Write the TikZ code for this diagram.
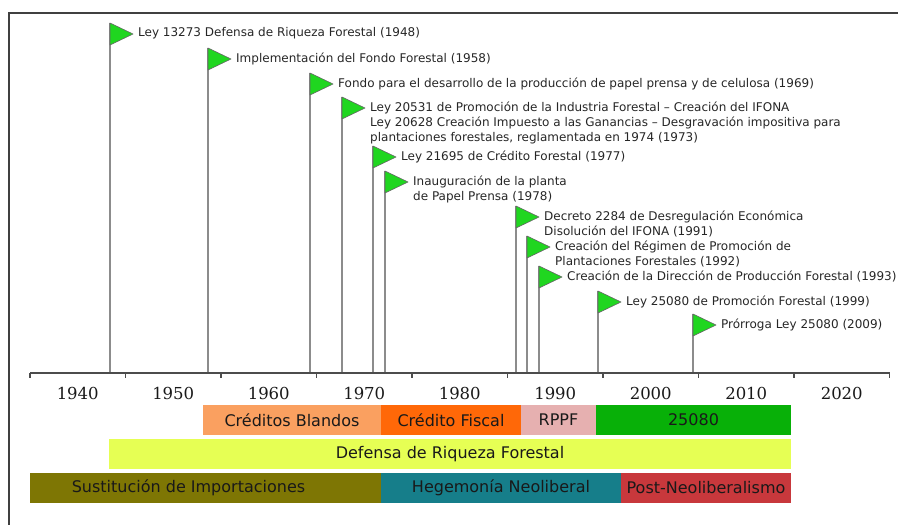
\documentclass[tikz,border=0pt]{standalone}
\usepackage{fontspec}
\setmainfont{DejaVu Sans}
\newfontfamily\yearfont{DejaVu Serif}
\usetikzlibrary{positioning}
\definecolor{flaggreen}{RGB}{32,214,32}
\definecolor{polegray}{RGB}{140,140,140}
\definecolor{blandos}{RGB}{250,160,96}
\definecolor{fiscal}{RGB}{255,104,8}
\definecolor{rppf}{RGB}{230,176,176}
\definecolor{ley25080}{RGB}{8,176,8}
\definecolor{defensa}{RGB}{230,255,84}
\definecolor{sustolive}{RGB}{126,118,4}
\definecolor{hegemonia}{RGB}{22,126,138}
\definecolor{postneo}{RGB}{200,56,60}
\tikzset{
  pole/.style={line width=1.4pt, color=polegray},
  flag/.style={fill=flaggreen, draw=black!60, line width=0.6pt, line join=round},
  eventlabel/.style={anchor=north west, inner sep=0pt, align=left, text=black!85,
    font=\fontsize{12}{15}\selectfont},
  axisline/.style={line width=1.8pt, color=black!70},
  yearlabel/.style={font=\yearfont\fontsize{16.5}{18}\selectfont, text=black!90},
  bar/.style={minimum height=30pt, inner sep=0pt, text=black!90,
    font=\fontsize{16}{18}\selectfont},
}
% one flag on its pole, label to the right
\newcommand{\eventflag}[4]{
\coordinate (#1-top) at (#2, #3);
\coordinate (#1-foot) at (#2, 373);
\draw[pole] (#1-top) -- (#1-foot);
\draw[flag] (#1-top) -- ++(23, 11) -- ++(-23, 11) -- cycle;
\node[eventlabel] (#1) at (#2 + 28, #3 + 4.5) {#4};
}

\begin{document}
\begin{tikzpicture}[x=1pt, y=-1pt]
\useasboundingbox (0, 0) rectangle (898, 525);
\draw[line width=2pt, black!75] (898, 13) -- (9, 13) -- (9, 525);

\eventflag{ley13273}{110}{23}{Ley 13273 Defensa de Riqueza Forestal (1948)}
\eventflag{fondo}{208}{48}{Implementación del Fondo Forestal (1958)}
\eventflag{papel}{310}{73}{Fondo para el desarrollo de la producción de papel prensa y de celulosa (1969)}
\eventflag{ifona}{342}{97}{Ley 20531 de Promoción de la Industria Forestal – Creación del IFONA\\
  Ley 20628 Creación Impuesto a las Ganancias – Desgravación impositiva para\\
  plantaciones forestales, reglamentada en 1974 (1973)}
\eventflag{credito}{373}{146}{Ley 21695 de Crédito Forestal (1977)}
\eventflag{planta}{385}{171}{Inauguración de la planta\\de Papel Prensa (1978)}
\eventflag{decreto}{516}{206}{Decreto 2284 de Desregulación Económica\\Disolución del IFONA (1991)}
\eventflag{regimen}{527}{236}{Creación del Régimen de Promoción de\\Plantaciones Forestales (1992)}
\eventflag{direccion}{539}{266}{Creación de la Dirección de Producción Forestal (1993)}
\eventflag{ley25080}{598}{291}{Ley 25080 de Promoción Forestal (1999)}
\eventflag{prorroga}{693}{314}{Prórroga Ley 25080 (2009)}

% time axis
\draw[axisline] (30, 373) coordinate (axis-start) -- (890, 373) coordinate (axis-end);
\foreach \k in {0,...,9}
  \draw[axisline, line width=1.4pt] (30 + 95.5 * \k, 373) -- ++(0, 5);
\foreach \yr [count=\k from 0] in {1940,1950,...,2020}
  \node[yearlabel] (year-\yr) at (77.75 + 95.5 * \k, 393) {\yr};

% instruments
\node[bar, fill=blandos, minimum width=178pt] (blandos) at (292, 420) {Créditos Blandos};
\node[bar, fill=fiscal, minimum width=140pt] (fiscal) at (451, 420) {Crédito Fiscal};
\node[bar, fill=rppf, minimum width=75pt] (rppf) at (558.5, 420) {RPPF};
\node[bar, fill=ley25080, minimum width=195pt] (bar25080) at (693.5, 420) {25080};
% law
\node[bar, fill=defensa, minimum width=682pt] (defensa) at (450, 454) {Defensa de Riqueza Forestal};
% periods
\node[bar, fill=sustolive, minimum width=351pt] (sust) at (205.5, 488) {};
\node[bar] (sust-text) at ([xshift=-17pt]sust.center) {Sustitución de Importaciones};
\node[bar, fill=hegemonia, minimum width=240pt] (hegemonia) at (501, 488) {Hegemonía Neoliberal};
\node[bar, fill=postneo, minimum width=170pt] (postneo) at (706, 488) {Post-Neoliberalismo};
\end{tikzpicture}
\end{document}
